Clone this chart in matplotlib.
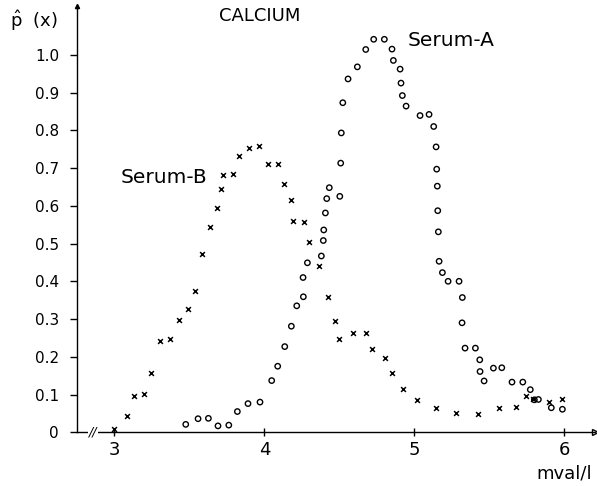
import matplotlib
matplotlib.use("Agg")
import matplotlib.pyplot as plt

# Serum-A (circles)
serum_a_x = [3.476, 3.558, 3.627, 3.691, 3.763, 3.82, 3.891, 3.971, 4.049, 4.089,
             4.136, 4.18, 4.216, 4.26, 4.258, 4.287, 4.38, 4.393, 4.396, 4.407,
             4.416, 4.433, 4.503, 4.509, 4.513, 4.523, 4.558, 4.62, 4.676, 4.729,
             4.80, 4.851, 4.86, 4.905, 4.911, 4.92, 4.945, 5.038, 5.098, 5.129,
             5.145, 5.149, 5.153, 5.156, 5.16, 5.165, 5.187, 5.225, 5.298, 5.32,
             5.318, 5.338, 5.407, 5.436, 5.438, 5.465, 5.527, 5.583, 5.651, 5.723,
             5.773, 5.80, 5.827, 5.913, 5.987]
serum_a_y = [0.021, 0.036, 0.037, 0.017, 0.019, 0.055, 0.076, 0.080, 0.137, 0.175,
             0.227, 0.281, 0.335, 0.359, 0.41, 0.449, 0.467, 0.508, 0.536, 0.581,
             0.619, 0.648, 0.625, 0.713, 0.793, 0.873, 0.936, 0.968, 1.014, 1.041,
             1.041, 1.015, 0.985, 0.962, 0.925, 0.892, 0.864, 0.839, 0.842, 0.81,
             0.756, 0.697, 0.652, 0.587, 0.531, 0.453, 0.423, 0.40, 0.40, 0.357,
             0.29, 0.223, 0.223, 0.192, 0.161, 0.136, 0.17, 0.171, 0.133, 0.133,
             0.113, 0.086, 0.087, 0.065, 0.061]

# Serum-B (x marks)
serum_b_x = [3.0, 3.083, 3.129, 3.198, 3.245, 3.303, 3.373, 3.431, 3.489, 3.538,
             3.587, 3.636, 3.687, 3.713, 3.725, 3.791, 3.831, 3.896, 3.965, 4.025,
             4.088, 4.129, 4.181, 4.193, 4.265, 4.30, 4.363, 4.423, 4.471, 4.50,
             4.591, 4.676, 4.718, 4.805, 4.849, 4.925, 5.018, 5.147, 5.278, 5.423,
             5.563, 5.676, 5.743, 5.793, 5.898, 5.987]
serum_b_y = [0.009, 0.044, 0.097, 0.101, 0.157, 0.243, 0.246, 0.297, 0.327, 0.375,
             0.472, 0.543, 0.594, 0.644, 0.681, 0.685, 0.732, 0.754, 0.759, 0.711,
             0.711, 0.659, 0.615, 0.561, 0.557, 0.503, 0.441, 0.359, 0.294, 0.247,
             0.262, 0.262, 0.221, 0.198, 0.158, 0.115, 0.086, 0.064, 0.05, 0.048,
             0.065, 0.068, 0.097, 0.088, 0.079, 0.088]

x_ticks = [3, 4, 5, 6]
x_tick_labels = ["3", "4", "5", "6"]
y_ticks = [0, 0.1, 0.2, 0.3, 0.4, 0.5, 0.6, 0.7, 0.8, 0.9, 1.0]
y_tick_labels = ["0", "0.1", "0.2", "0.3", "0.4", "0.5", "0.6", "0.7", "0.8", "0.9", "1.0"]

W, H = 597, 486
fig = plt.figure(figsize=(W / 100, H / 100), dpi=100)
ax = fig.add_axes([77 / W, 53.7 / H, 517.5 / W, 426.6 / H])
ax.set_xlim(2.751, 6.201)
ax.set_ylim(0, 1.13)

ax.scatter(serum_a_x, serum_a_y, s=15, facecolors="none", edgecolors="black",
           linewidths=1.0, zorder=3)
ax.scatter(serum_b_x, serum_b_y, s=12, marker="x", color="black",
           linewidths=1.1, zorder=3)

for side in ["top", "right"]:
    ax.spines[side].set_visible(False)
for side in ["left", "bottom"]:
    ax.spines[side].set_linewidth(1.0)

ax.set_xticks(x_ticks)
ax.set_xticklabels(x_tick_labels, fontsize=13)
ax.set_yticks(y_ticks)
ax.set_yticklabels(y_tick_labels, fontsize=11)
ax.tick_params(axis="x", direction="inout", length=6, width=1.0, pad=3)
ax.tick_params(axis="y", direction="out", length=5, width=1.0, pad=8)

# axis arrows
ax.plot(1, 0, ">", color="black", ms=5, transform=ax.transAxes, clip_on=False,
        mfc="white", mew=1.0)
ax.plot(0, 1, "^", color="black", ms=3, transform=ax.transAxes, clip_on=False)

# axis break
ax.text(2.858, 0, "//", fontsize=9, ha="center", va="center", style="italic",
        bbox=dict(facecolor="white", edgecolor="none", pad=0.5))

ax.text(3.70, 1.103, "CALCIUM", fontsize=13, ha="left", va="center", clip_on=False)
ax.text(4.958, 1.039, "Serum-A", fontsize=14.5, ha="left", va="center")
ax.text(3.039, 0.676, "Serum-B", fontsize=14.5, ha="left", va="center")

fig.text(10 / W, 1 - 21 / H, r"$\hat{\mathrm{p}}$  (x)", fontsize=13, ha="left", va="center")
fig.text(536 / W, 1 - 473 / H, "mval/l", fontsize=13, ha="left", va="center")

fig.savefig("out.png", dpi=100)
